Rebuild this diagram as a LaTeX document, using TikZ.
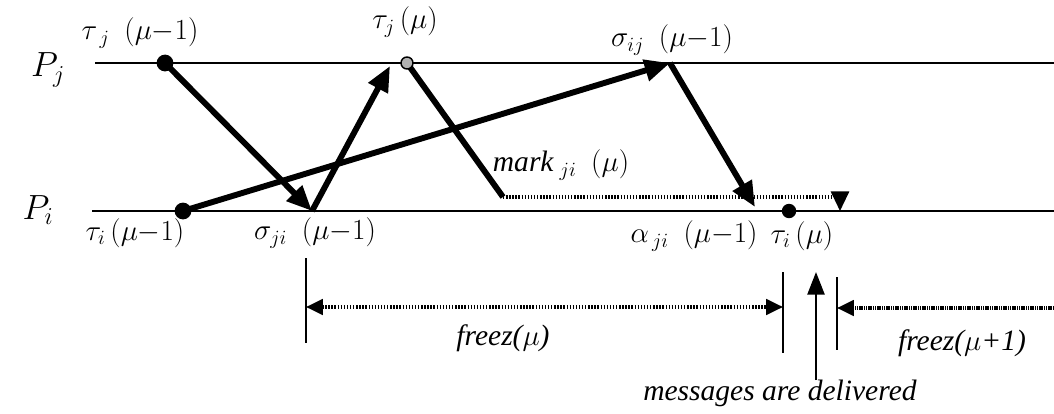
\documentclass[tikz,border=0pt]{standalone}
\usepackage{fontspec}
\setmainfont{Liberation Serif}
\usetikzlibrary{arrows.meta}

\begin{document}
\begin{tikzpicture}[
				x=0.025cm, y=-0.025cm,
				every node/.style={font=\fontsize{21}{24}\selectfont, inner sep=1pt},
				proc/.style={line width=1.5pt},
				msg/.style={line width=4.2pt, -{Triangle[length=18pt,width=15pt]}},
				event/.style={circle, fill, inner sep=0pt, minimum size=0.42cm},
				tick/.style={line width=1.5pt},
				span/.style={line width=2.2pt, dash pattern=on 1pt off 1.2pt, {Triangle[length=12pt,width=11pt]}-{Triangle[length=12pt,width=11pt]}}
			]
		\useasboundingbox (0,0) rectangle (1054,414);

		% Process lines
		\coordinate (pjL) at (95,63);  \coordinate (pjR) at (1054,63);
		\coordinate (piL) at (92,211); \coordinate (piR) at (1054,211);
		\draw[proc] (pjL) -- (pjR);
		\draw[proc] (piL) -- (piR);
		\node (pj) at (48,70) {\fontsize{24}{26}\selectfont$P_j$};
		\node (pi) at (38,210) {\fontsize{24}{26}\selectfont$P_i$};

		% Events
		\coordinate (tjA) at (165,63);
		\coordinate (tjB) at (407,63);
		\coordinate (rj)  at (390,66);
		\coordinate (sij) at (670,63);
		\coordinate (tiA) at (183,211);
		\coordinate (sji) at (312,211);
		\coordinate (mk)  at (503,197);
		\coordinate (mkc) at (840,197);
		\coordinate (mkd) at (840,211);
		\coordinate (aji) at (755,207);
		\coordinate (tiB) at (789,211);

		% Messages
		\foreach \src/\dst in {tjA/sji, sji/rj, tiA/sij, sij/aji} {
				\draw[msg] (\src) -- (\dst);
			}
		\draw[line width=4.2pt] (tjB) -- (mk);
		\draw[line width=3pt, dash pattern=on 1pt off 1.2pt] (mk) -- (mkc);
		\draw[line width=1.6pt, -{Triangle[length=14pt,width=13pt]}] (mkc) -- (mkd);

		\node[event] (dtjA) at (tjA) {};
		\node[event, minimum size=0.3cm, fill=gray!60, draw=black, line width=1pt] (dtjB) at (tjB) {};
		\node[event] (dtiA) at (tiA) {};
		\node[event, minimum size=0.36cm] (dtiB) at (tiB) {};

		% Event labels
		\node (ltjA) at (140,33) {$\tau_{\;j}$\ \ $(\mu{-}1)$};
		\node (ltjB) at (405,22) {$\tau_{j}$\,$(\mu)$};
		\node (lsij) at (672,40) {$\sigma_{ij}$\ \ $(\mu{-}1)$};
		\node (lmk)  at (561,165) {\textit{mark}$_{\;ji}$\ \ $(\mu)$};
		\node (ltiA) at (135,233) {$\tau_{i}$\,$(\mu{-}1)$};
		\node (lsji) at (315,233) {$\sigma_{ji}$\ \ $(\mu{-}1)$};
		\node (laji) at (694,236) {$\alpha_{\,ji}$\ \ $(\mu{-}1)$};
		\node (ltiB) at (802,236) {$\tau_{i}$\,$(\mu)$};

		% Freeze intervals
		\coordinate (k1t) at (306,258); \coordinate (k1b) at (306,343);
		\coordinate (k2t) at (783,272); \coordinate (k2b) at (783,353);
		\coordinate (k3t) at (837,277); \coordinate (k3b) at (837,350);
		\foreach \top/\bot in {k1t/k1b, k2t/k2b, k3t/k3b} {
				\draw[tick] (\top) -- (\bot);
			}
		\coordinate (fzL) at (306,307); \coordinate (fzR) at (783,307);
		\coordinate (fnL) at (837,308); \coordinate (fnR) at (1054,308);
		\draw[span] (fzL) -- (fzR);
		\draw[line width=2.2pt, dash pattern=on 1pt off 0.6pt, -{Triangle[length=12pt,width=11pt]}] (fnR) -- (fnL);
		\node (lfz) at (503,338) {\textit{freez($\mu$)}};
		\node (lfn) at (962,343) {\textit{freez($\mu$+1)}};

		% Delivery
		\coordinate (dlB) at (816,380); \coordinate (dlT) at (816,272);
		\draw[line width=1.8pt, -{Triangle[length=16pt,width=12pt]}] (dlB) -- (dlT);
		\node (ldl) at (780,393) {\textit{messages are delivered}};
	\end{tikzpicture}
\end{document}
